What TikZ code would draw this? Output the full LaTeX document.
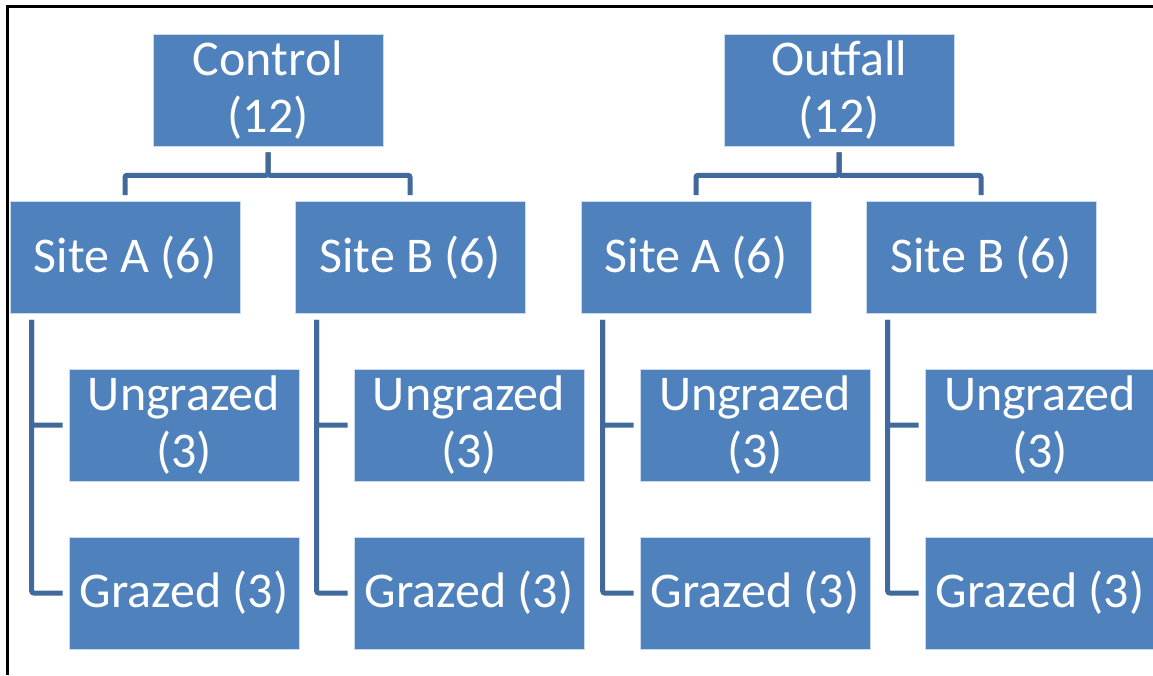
\documentclass[tikz,border=0pt]{standalone}
\usepackage{fontspec}
\setmainfont{Carlito}
\definecolor{boxblue}{RGB}{79,129,189}
\definecolor{lineblue}{RGB}{65,105,155}
\newcommand{\boxw}{230}
\newcommand{\boxh}{112}
\newcommand{\drop}{22}

\begin{document}
\begin{tikzpicture}[x=1pt, y=-1pt,
    box/.style={fill=boxblue, draw=white!70!boxblue, line width=0.6pt, text=white,
        minimum width=\boxw pt, minimum height=\boxh pt, inner sep=0pt, align=center,
        font=\fontsize{50}{57}\selectfont},
    link/.style={draw=lineblue, line width=5pt, rounded corners=2pt,
        shorten <=6pt, shorten >=6pt}]
    \useasboundingbox (0,0) rectangle (1153,675);

    % frame
    \draw[line width=3pt] (7,675) -- (7,6) -- (1153,6);

    % top level
    \node[box] (ctrl) at (268,90) {Control\\(12)};
    \node[box] (outf) at (839,90) {Outfall\\(12)};

    % sites
    \node[box] (ca) at (125,257.5) {Site A (6)};
    \node[box] (cb) at (410,257.5) {Site B (6)};
    \node[box] (oa) at (696,257.5) {Site A (6)};
    \node[box] (ob) at (981,257.5) {Site B (6)};

    % treatments
    \node[box] (cau) at (184,425) {Ungrazed\\(3)};
    \node[box] (cag) at (184,593) {Grazed (3)};
    \node[box] (cbu) at (469,425) {Ungrazed\\(3)};
    \node[box] (cbg) at (469,593) {Grazed (3)};
    \node[box] (oau) at (755,425) {Ungrazed\\(3)};
    \node[box] (oag) at (755,593) {Grazed (3)};
    \node[box] (obu) at (1040,425) {Ungrazed\\(3)};
    \node[box] (obg) at (1040,593) {Grazed (3)};

    % connectors
    \draw[link] (ctrl.south) -- ++(0,29) -| (ca.north);
    \draw[link] (ctrl.south) -- ++(0,29) -| (cb.north);
    \draw[link] (outf.south) -- ++(0,29) -| (oa.north);
    \draw[link] (outf.south) -- ++(0,29) -| (ob.north);

    \draw[link] ([xshift=\drop pt]ca.south west) |- (cau.west);
    \draw[link] ([xshift=\drop pt]ca.south west) |- (cag.west);
    \draw[link] ([xshift=\drop pt]cb.south west) |- (cbu.west);
    \draw[link] ([xshift=\drop pt]cb.south west) |- (cbg.west);
    \draw[link] ([xshift=\drop pt]oa.south west) |- (oau.west);
    \draw[link] ([xshift=\drop pt]oa.south west) |- (oag.west);
    \draw[link] ([xshift=\drop pt]ob.south west) |- (obu.west);
    \draw[link] ([xshift=\drop pt]ob.south west) |- (obg.west);
\end{tikzpicture}
\end{document}
